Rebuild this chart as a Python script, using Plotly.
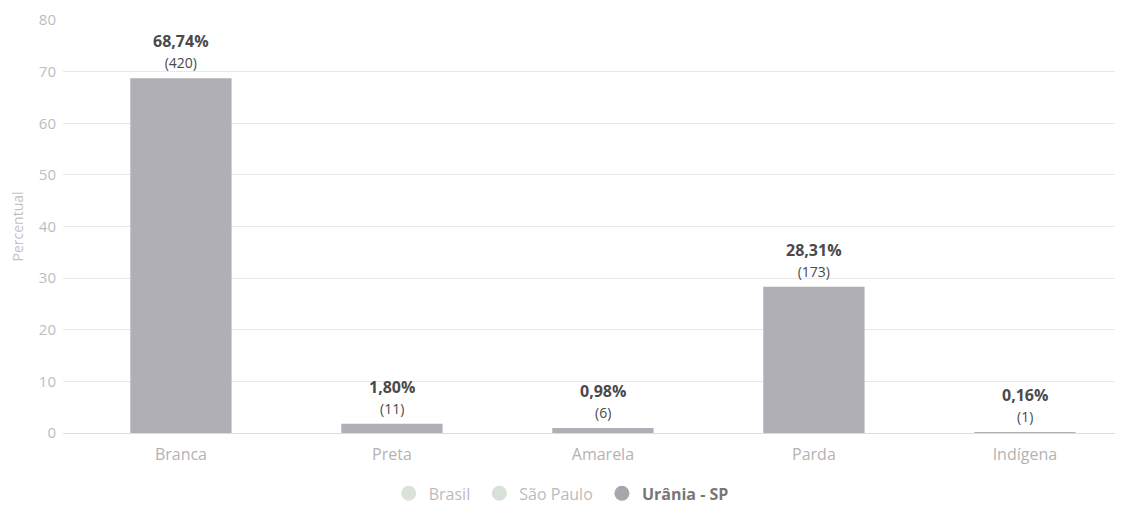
import plotly.graph_objects as go

categories = ["Branca", "Preta", "Amarela", "Parda", "Indígena"]
percent = [68.74, 1.80, 0.98, 28.31, 0.16]
counts = [420, 11, 6, 173, 1]
pct_labels = ["68,74%", "1,80%", "0,98%", "28,31%", "0,16%"]
y_ticks = [0, 10, 20, 30, 40, 50, 60, 70, 80]
legend_names = ["Brasil", "São Paulo", "Urânia - SP"]

FONT = "Open Sans"
BAR_COLOR = "#afafb5"

fig = go.Figure()

fig.add_trace(go.Bar(
    x=categories, y=percent, width=0.48,
    marker=dict(color=BAR_COLOR, line=dict(width=0)),
    showlegend=False, hoverinfo="skip",
))

for name, col in zip(legend_names[:2], ["#b9c4b6", "#b3c4b0"]):
    fig.add_trace(go.Scatter(
        x=[None], y=[None], mode="markers", name=name + " ",
        marker=dict(symbol="circle", size=15, color=col),
        visible="legendonly",
    ))
fig.add_trace(go.Scatter(
    x=[None], y=[None], mode="markers", name="<b>" + legend_names[2] + "</b>",
    marker=dict(symbol="circle", size=15, color="#a6a6ad"),
))

for c, p, lab, n in zip(categories, percent, pct_labels, counts):
    fig.add_annotation(
        x=c, y=p, yref="y", xref="x",
        text=f"<b>{lab}</b><br><span style='font-size:14px'>({n})</span>",
        showarrow=False, yanchor="bottom", yshift=4,
        font=dict(family=FONT, size=16, color="#4a4a4a"),
        align="center",
    )

fig.update_layout(
    width=1115, height=501,
    margin=dict(l=55, r=0, t=12, b=76, autoexpand=False),
    plot_bgcolor="white", paper_bgcolor="white",
    font=dict(family=FONT, color="#b5b5b5", size=14),
    xaxis=dict(
        range=[-0.559, 4.465], showgrid=False, showline=False, zeroline=False,
        ticks="", tickfont=dict(size=16, color="#b3b3b3"), ticklabelstandoff=10,
    ),
    yaxis=dict(
        range=[0, 80], tickvals=y_ticks, showgrid=True, gridcolor="#e8e8e8",
        gridwidth=1, zeroline=True, zerolinecolor="#dcdcdc", zerolinewidth=1,
        tickfont=dict(size=15, color="#bdbdbd"), ticklabelstandoff=6,
        ticklabeloverflow="allow",
        title=dict(text="Percentual", font=dict(size=14, color="#c3c3c3"), standoff=12),
    ),
    legend=dict(
        orientation="h", x=0.47, xanchor="center", y=-0.105, yanchor="top",
        font=dict(size=16, color="#777777"), itemclick=False, itemdoubleclick=False,
    ),
)

fig.write_html("out.html")
